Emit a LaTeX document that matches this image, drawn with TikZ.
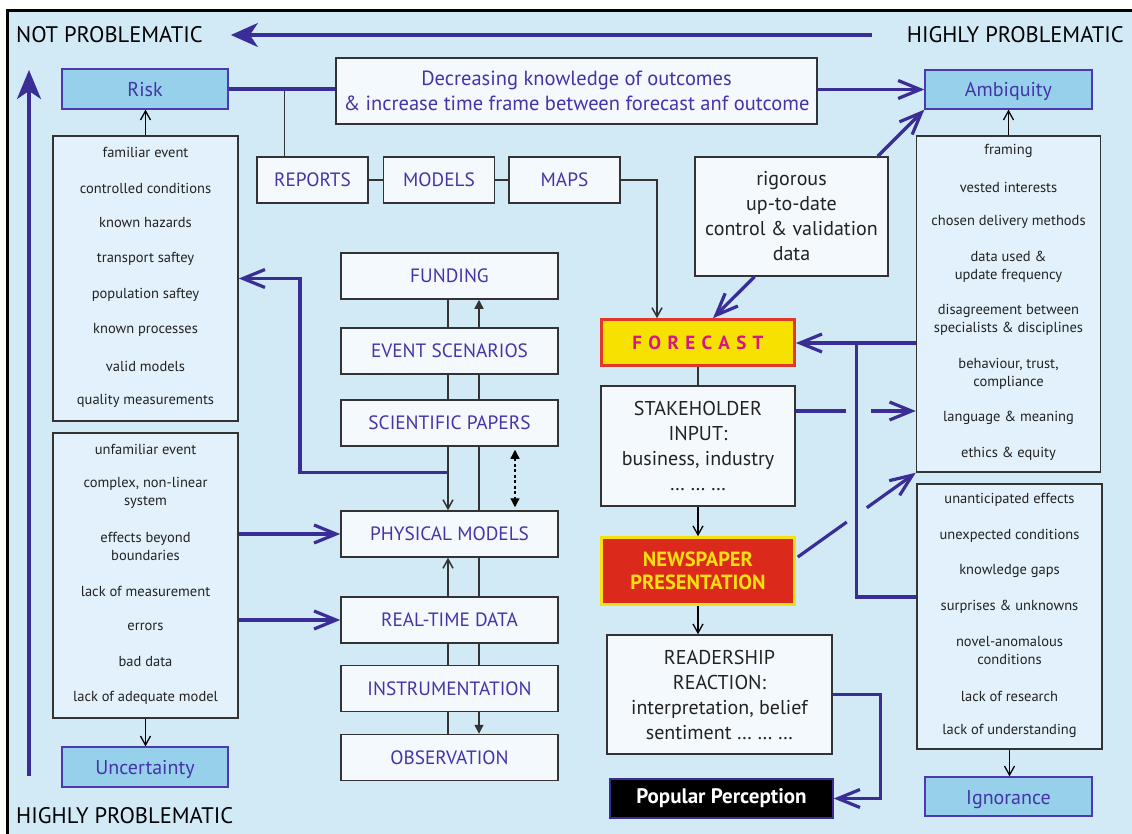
\documentclass[tikz,border=0pt]{standalone}
\usepackage{fontspec}
\setmainfont{PT Sans}
\usetikzlibrary{arrows.meta,calc}

\definecolor{bgblue}{HTML}{D2E9F6}
\definecolor{catfill}{HTML}{96D0EA}
\definecolor{listfill}{HTML}{E2F1FB}
\definecolor{wfill}{HTML}{F4F9FD}
\definecolor{lineblue}{HTML}{3A2D96}
\definecolor{txtblue}{HTML}{4434A8}
\definecolor{catborder}{HTML}{4A3AAE}
\definecolor{fcyellow}{HTML}{F6E100}
\definecolor{fcred}{HTML}{E2382A}
\definecolor{fcmag}{HTML}{D8148A}
\definecolor{npred}{HTML}{DB2A1C}
\definecolor{npyellow}{HTML}{F8DF12}
\definecolor{boxborder}{HTML}{333333}
\definecolor{itemtext}{HTML}{222222}

\tikzset{
  bigbarb/.tip={Straight Barb[length=22pt,width=18pt]},
  smallbarb/.tip={Straight Barb[length=9pt,width=10pt]},
  ftri/.tip={Triangle[length=9pt,width=9pt]},
  bl/.style={draw=lineblue, line width=3.2pt},
  gl/.style={draw=boxborder, line width=1.5pt},
  kl/.style={draw=black, line width=1.3pt},
  cat/.style={draw=catborder, fill=catfill, line width=1.3pt, text=txtblue,
    font=\fontsize{20}{22}\selectfont, minimum width=166pt, minimum height=40pt, inner sep=0pt,
    text height=15pt, text depth=0pt},
  listbox/.style={draw=boxborder, fill=listfill, line width=1.5pt, inner sep=0pt},
  item/.style={font=\fontsize{14.5}{18}\selectfont, align=center, text=itemtext, inner sep=0pt},
  wbox/.style={draw=boxborder, fill=wfill, line width=1.5pt, inner sep=0pt, text=txtblue,
    font=\fontsize{19.3}{25}\selectfont, align=center},
  colbox/.style={wbox, minimum width=217pt, minimum height=46pt},
  topbox/.style={wbox, minimum width=111pt, minimum height=46pt},
  blackbox/.style={wbox, text=itemtext, font=\fontsize{20}{25}\selectfont},
  bigtext/.style={font=\fontsize{22.5}{26}\selectfont, text=black, inner sep=0pt},
}

\begin{document}
\begin{tikzpicture}[x=1pt,y=-1pt]
% canvas and frame
\useasboundingbox (0,0) rectangle (1132,834);
\fill[white] (0,0) rectangle (1132,834);
\fill[bgblue] (7,11) rectangle (1140,840);
\draw[line width=3pt, black] (1140,11) -- (7,11) -- (7,840);

% scale labels
\node[bigtext, anchor=west] (np) at (16,35) {NOT PROBLEMATIC};
\node[bigtext, anchor=east] (hpr) at (1124,35) {HIGHLY PROBLEMATIC};
\node[bigtext, anchor=west] (hpb) at (16,816) {HIGHLY PROBLEMATIC};
\draw[bl, -{Stealth[length=27pt,width=24pt,inset=8pt]}] ($(hpr.west)+(-35,0)$) -- ($(np.east)+(28,0)$);
\coordinate (vbot) at (29,776);
\coordinate (vtop) at (29,70);
\draw[bl, -{Stealth[length=29pt,width=24pt,inset=8pt]}] (vbot) -- (vtop);

% category boxes
\node[cat] (risk) at (145,89) {Risk};
\node[cat] (unc) at (145,767) {Uncertainty};
\node[cat, minimum width=167pt, minimum height=39pt] (amb) at (1008.5,89.5) {Ambiquity};
\node[cat, minimum width=167pt, minimum height=39pt] (ign) at (1008.5,796.5) {Ignorance};

% risk list
\node[listbox, minimum width=185pt, minimum height=285pt] (risklist) at (145.5,278.5) {};
\node[item] (r1) at (145.5,152) {familiar event};
\node[item] (r2) at (145.5,188) {controlled conditions};
\node[item] (r3) at (145.5,223) {known hazards};
\node[item] (r4) at (145.5,259) {transport saftey};
\node[item] (r5) at (145.5,295) {population saftey};
\node[item] (r6) at (145.5,330) {known processes};
\node[item] (r7) at (145.5,366) {valid models};
\node[item] (r8) at (145.5,401) {quality measurements};

% uncertainty list
\node[listbox, minimum width=185pt, minimum height=285pt] (unclist) at (145.5,575.5) {};
\node[item] (u1) at (145.5,449) {unfamiliar event};
\node[item] (u2) at (145.5,493) {complex, non-linear\\system};
\node[item] (u3) at (145.5,546) {effects beyond\\boundaries};
\node[item] (u4) at (145.5,591) {lack of measurement};
\node[item] (u5) at (145.5,627) {errors};
\node[item] (u6) at (145.5,662) {bad data};
\node[item] (u7) at (145.5,698) {lack of adequate model};

% ambiguity list
\node[listbox, minimum width=184pt, minimum height=336pt] (amblist) at (1008.5,304) {};
\node[item] (a1) at (1008.5,151) {framing};
\node[item] (a2) at (1008.5,187) {vested interests};
\node[item] (a3) at (1008.5,222) {chosen delivery methods};
\node[item] (a4) at (1008.5,267) {data used \&\\update frequency};
\node[item] (a5) at (1008.5,320) {disagreement between\\specialists \& disciplines};
\node[item] (a6) at (1008.5,374) {behaviour, trust,\\compliance};
\node[item] (a7) at (1008.5,418) {language \& meaning};
\node[item] (a8) at (1008.5,454) {ethics \& equity};

% ignorance list
\node[listbox, minimum width=185pt, minimum height=265pt] (ignlist) at (1009.5,616.5) {};
\node[item] (i1) at (1009.5,500) {unanticipated effects};
\node[item] (i2) at (1009.5,536) {unexpected conditions};
\node[item] (i3) at (1009.5,571) {knowledge gaps};
\node[item] (i4) at (1009.5,607) {surprises \& unknowns};
\node[item] (i5) at (1009.5,651) {novel-anomalous\\conditions};
\node[item] (i6) at (1009.5,696) {lack of research};
\node[item] (i7) at (1009.5,731) {lack of understanding};

% top row
\node[wbox, minimum width=481pt, minimum height=66pt, font=\fontsize{20.5}{25}\selectfont] (decr) at (576.5,91)
  {Decreasing knowledge of outcomes\\\& increase time frame between forecast anf outcome};
\node[topbox] (reports) at (312.5,180) {REPORTS};
\node[topbox] (models) at (439,180) {MODELS};
\node[topbox] (maps) at (564.5,180) {MAPS};
\node[blackbox, minimum width=193pt, minimum height=119pt] (rig) at (791.5,216.5)
  {rigorous\\up-to-date\\control \& validation\\data};

% central column
\node[colbox] (funding) at (449.5,276) {FUNDING};
\node[colbox] (event) at (449.5,351) {EVENT SCENARIOS};
\node[colbox] (sci) at (449.5,423) {SCIENTIFIC PAPERS};
\node[colbox] (phys) at (449.5,534) {PHYSICAL MODELS};
\node[colbox] (rtd) at (449.5,620) {REAL-TIME DATA};
\node[colbox] (instr) at (449.5,688.5) {INSTRUMENTATION};
\node[colbox] (obs) at (449.5,757.5) {OBSERVATION};

% forecast chain
\node[draw=fcred, fill=fcyellow, line width=2.6pt, minimum width=193pt, minimum height=46pt, inner sep=0pt,
  text=fcmag, font=\bfseries\fontsize{19}{20}\selectfont] (fcast) at (698,342.5) {F\,\,O\,\,R\,\,E\,\,C\,\,A\,\,S\,\,T};
\node[blackbox, minimum width=194pt, minimum height=120pt] (stake) at (698,446)
  {STAKEHOLDER\\INPUT:\\business, industry\\… … …};
\node[draw=npyellow, fill=npred, line width=2.6pt, minimum width=193pt, minimum height=67pt, inner sep=0pt,
  text=npyellow, align=center, font=\bfseries\fontsize{20.5}{23.5}\selectfont] (news) at (698,571) {NEWSPAPER\\PRESENTATION};
\node[blackbox, minimum width=225pt, minimum height=119pt] (read) at (719.5,694.5)
  {READERSHIP\\REACTION:\\interpretation, belief\\sentiment … … …};
\node[draw=lineblue, fill=black, line width=1.5pt, minimum width=223pt, minimum height=39pt, inner sep=0pt,
  text=white, font=\bfseries\fontsize{21}{22}\selectfont] (pop) at (721.5,798.5) {Popular Perception};

% grey links of the top row
\coordinate (rj) at ($(reports.north west)+(28,0)$);
\draw[gl] (rj) -- (rj |- risk.east);
\draw[gl] (reports.east) -- (models.west);
\draw[gl] (models.east) -- (maps.west);
\draw[gl, -{smallbarb}] (maps.east) -| ($(fcast.north)+(-41,0)$);

% blue links of the top row
\draw[bl] (risk.east) -- (risk.east -| decr.west);
\draw[bl, -{bigbarb}] (decr.east |- amb.west) -- (amb.west);
\draw[bl, -{bigbarb}] ($(rig.north east)+(-11,0)$) -- (amb.south west);
\draw[bl, -{bigbarb}] ($(rig.south)+(-37,0)$) -- ($(fcast.north)+(15,0)$);

% list boxes to category boxes
\draw[kl, -{smallbarb}] (risklist.north) -- (risklist.north |- risk.south);
\draw[kl, -{smallbarb}] (unclist.south) -- (unclist.south |- unc.north);
\draw[kl, -{smallbarb}] (amblist.north) -- (amblist.north |- amb.south);
\draw[kl, -{smallbarb}] (ignlist.south) -- (ignlist.south |- ign.north);

% central column links
\draw[gl] ($(funding.south)+(-1.5,0)$) -- ($(event.north)+(-1.5,0)$);
\draw[gl, -{ftri}] ($(event.north)+(29.5,0)$) -- ($(funding.south)+(29.5,0)$);
\draw[gl] ($(event.south)+(-1.5,0)$) -- ($(sci.north)+(-1.5,0)$);
\draw[gl] ($(event.south)+(29.5,0)$) -- ($(sci.north)+(29.5,0)$);
\draw[gl, -{smallbarb}] ($(sci.south)+(-1.5,0)$) -- ($(phys.north)+(-1.5,0)$);
\draw[gl] ($(sci.south)+(29.5,0)$) -- ($(phys.north)+(29.5,0)$);
\draw[kl, dash pattern=on 3pt off 2.5pt, {ftri}-{ftri}] ($(sci.south)+(65.5,3)$) -- ($(phys.north)+(65.5,-3)$);
\draw[gl, -{smallbarb}] ($(rtd.north)+(-1.5,0)$) -- ($(phys.south)+(-1.5,0)$);
\draw[gl] ($(rtd.north)+(29.5,0)$) -- ($(phys.south)+(29.5,0)$);
\draw[gl] ($(rtd.south)+(-1.5,0)$) -- ($(instr.north)+(-1.5,0)$);
\draw[gl] ($(rtd.south)+(29.5,0)$) -- ($(instr.north)+(29.5,0)$);
\draw[gl] ($(instr.south)+(-1.5,0)$) -- ($(obs.north)+(-1.5,0)$);
\draw[gl, -{ftri}] ($(instr.south)+(29.5,0)$) -- ($(obs.north)+(29.5,0)$);

% blue links on the left
\draw[bl, -{bigbarb}] ($(sci.south)+(-1.5,26)$) -- ++(-148,0) |- (risklist.east);
\draw[bl, -{bigbarb}] (unclist.east |- phys.west) -- (phys.west);
\draw[bl, -{bigbarb}] (unclist.east |- rtd.west) -- (rtd.west);

% forecast chain links
\draw[gl] (fcast.south) -- (stake.north);
\draw[kl, -{smallbarb}] (stake.south) -- (news.north);
\draw[kl, -{smallbarb}] (news.south) -- (news.south |- read.north);
\draw[bl, -{bigbarb}] (read.east) -- ++(48,0) |- (pop.east);

% blue links on the right
\coordinate (aj) at ($(amblist.west)+(0,39)$);
\draw[bl, -{bigbarb}] (aj) -- (aj -| fcast.east);
\coordinate (vj) at ($(aj)+(-59,0)$);
\draw[bl] (vj) |- ($(ignlist.west)+(0,-19.5)$);
\coordinate (sj) at ($(stake.east)+(0,-35)$);
\draw[bl] (sj) -- ++(50,0);
\draw[bl, -{bigbarb}] ($(sj)+(75,0)$) -- (sj -| amblist.west);
\coordinate (nj) at ($(news.east)+(2,-14)$);
\draw[bl] (nj) -- ($(nj)!0.415!(amblist.south west)$);
\draw[bl, -{bigbarb}] ($(nj)!0.585!(amblist.south west)$) -- (amblist.south west);
\end{tikzpicture}
\end{document}
